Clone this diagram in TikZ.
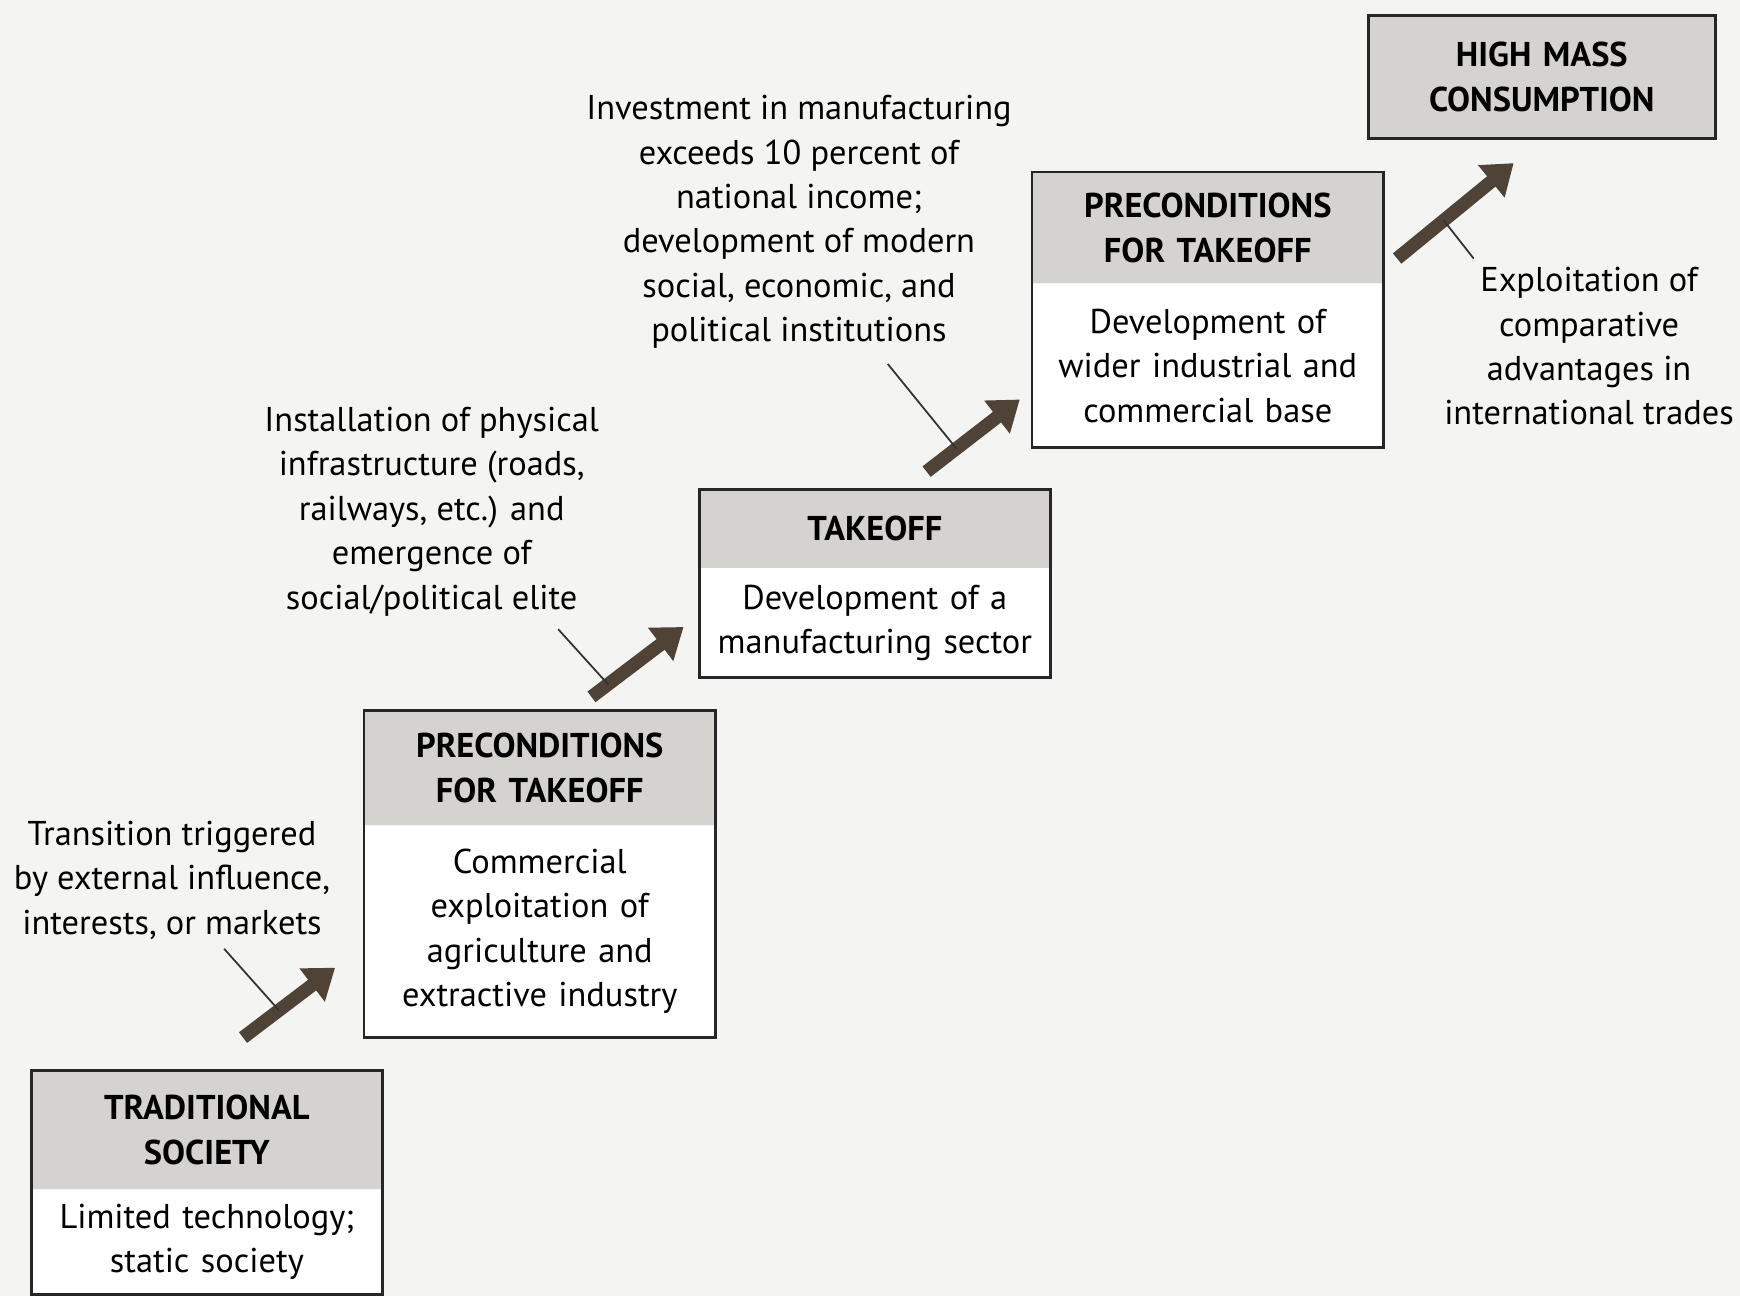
\documentclass[tikz,border=0pt]{standalone}
\usepackage{fontspec}
\setmainfont{PT Sans}
\usetikzlibrary{positioning,arrows.meta,calc}
\definecolor{headgray}{HTML}{D5D3CF}
\definecolor{arrowbrown}{HTML}{4F4338}
\definecolor{paper}{HTML}{F4F4F2}
\tikzset{
  stagehead/.style={fill=headgray, text width=158pt, align=center, inner sep=0pt,
    minimum height=#1, font=\bfseries\fontsize{15.5}{20}\selectfont},
  stagebody/.style={fill=white, text width=158pt, align=center, inner sep=0pt,
    minimum height=#1, font=\fontsize{15.5}{20}\selectfont},
  stageframe/.style={draw=black!85, line width=1.3pt},
  note/.style={align=center, inner sep=0pt, font=\fontsize{15.5}{20}\selectfont},
  growth/.style={arrowbrown, line width=6pt, -{Triangle[length=13pt, width=18pt]}},
  pointer/.style={black!80, line width=0.8pt}
}
\begin{document}
\begin{tikzpicture}[x=0.5pt, y=-0.5pt]
  \fill[paper] (0,0) rectangle (1568,1168);
  \useasboundingbox (0,0) rectangle (1568,1168);

  % stages
  \node[stagehead=53pt, anchor=north west] (tradhead) at (28,965) {TRADITIONAL\\SOCIETY};
  \node[stagebody=47pt, below=0pt of tradhead] (tradbody) {Limited technology;\\static society};
  \draw[stageframe] (tradhead.north west) rectangle (tradbody.south east);

  \node[stagehead=51.5pt, anchor=north west] (prehead) at (328,640) {PRECONDITIONS\\FOR TAKEOFF};
  \node[stagebody=95pt, below=0pt of prehead] (prebody) {Commercial\\exploitation of\\agriculture and\\extractive industry};
  \draw[stageframe] (prehead.north west) rectangle (prebody.south east);

  \node[stagehead=35pt, anchor=north west] (takehead) at (630,441) {TAKEOFF};
  \node[stagebody=49pt, below=0pt of takehead] (takebody) {Development of a\\manufacturing sector};
  \draw[stageframe] (takehead.north west) rectangle (takebody.south east);

  \node[stagehead=50pt, anchor=north west] (drivehead) at (930,155) {PRECONDITIONS\\FOR TAKEOFF};
  \node[stagebody=73.5pt, below=0pt of drivehead] (drivebody) {Development of\\wider industrial and\\commercial base};
  \draw[stageframe] (drivehead.north west) rectangle (drivebody.south east);

  \node[stagehead=55pt, anchor=north west, text width=156pt] (masshead) at (1233,14) {HIGH MASS\\CONSUMPTION};
  \draw[stageframe] (masshead.north west) rectangle (masshead.south east);

  % transitions
  \foreach \xs/\ys/\xe/\ye [count=\i] in {219/935/302/872, 533/628/616/565, 835/425/919/360, 1259/233/1364/147} {
    \coordinate (a\i s) at (\xs,\ys);
    \coordinate (a\i e) at (\xe,\ye);
    \draw[growth] (a\i s) -- (a\i e);
  }

  % notes
  \node[note] (note1) at (155,793) {Transition triggered\\by external influence,\\interests, or markets};
  \node[note] (note2) at (389,461) {Installation of physical\\infrastructure (roads,\\railways, etc.) and\\emergence of\\social/political elite};
  \node[note] (note3) at (720,200) {Investment in manufacturing\\exceeds 10 percent of\\national income;\\development of modern\\social, economic, and\\political institutions};
  \node[note] (note4) at (1432,312) {Exploitation of\\comparative\\advantages in\\international trades};

  \coordinate (p1) at (202,855);
  \coordinate (p2) at (503,567);
  \coordinate (p3) at (800,328);
  \coordinate (p4) at (1328,233);
  \draw[pointer] (p1) -- ($(a1s)!0.39!(a1e)$);
  \draw[pointer] (p2) -- ($(a2s)!0.18!(a2e)$);
  \draw[pointer] (p3) -- ($(a3s)!0.32!(a3e)$);
  \draw[pointer] (p4) -- ($(a4s)!0.40!(a4e)$);
\end{tikzpicture}
\end{document}
